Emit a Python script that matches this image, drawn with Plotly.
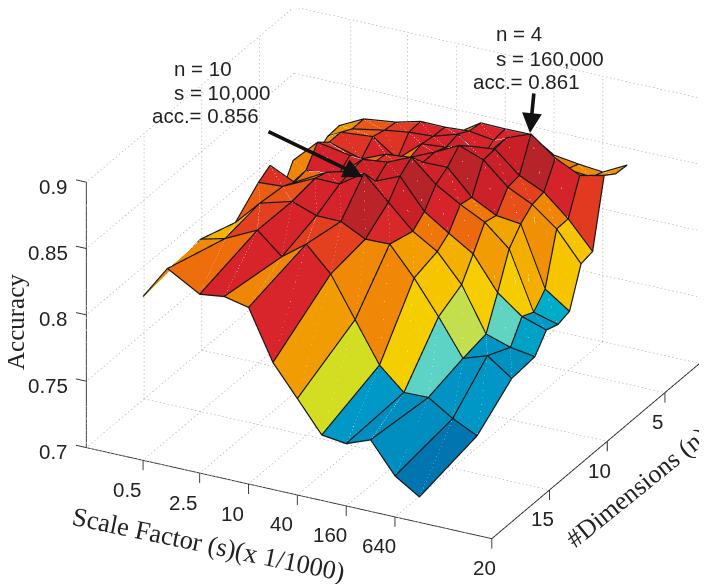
import numpy as np
import plotly.graph_objects as go

# ---------- data ----------
scale_factor = [0.5, 1, 2.5, 5, 10, 20, 40, 80, 160, 320, 640, 1280]
dimensions = [2, 3, 4, 5, 6, 7, 8, 9, 10, 12, 15, 20]
accuracy = [
    [.8168, .8239, .8279, .8321, .8317, .8436, .8432, .8434, .8317, .8291, .8272, .8366],
    [.8269, .8361, .8391, .8438, .8436, .8448, .8421, .8410, .8398, .8327, .8308, .8374],
    [.8262, .8359, .8404, .8430, .8441, .8498, .8360, .8553, .8623, .8483, .8394, .8435],
    [.8199, .8407, .8429, .8302, .8457, .8473, .8522, .8541, .8384, .8300, .8140, .7935],
    [.8250, .8405, .8334, .8411, .8429, .8509, .8601, .8534, .8369, .8280, .8137, .7915],
    [.8300, .8478, .8435, .8423, .8450, .8506, .8510, .8325, .8229, .8207, .7758, .7631],
    [.8133, .8340, .8358, .8520, .8539, .8618, .8454, .8344, .8252, .8092, .7656, .7605],
    [.8410, .8323, .8454, .8503, .8469, .8548, .8323, .8201, .8086, .7836, .7697, .7637],
    [.8355, .8366, .8482, .8480, .8602, .8425, .8248, .8136, .7928, .7597, .7538, .7509],
    [.8199, .8386, .8454, .8388, .8386, .8294, .8298, .8083, .7833, .7560, .7622, .7492],
    [.8294, .8340, .8458, .8299, .8435, .8251, .7948, .7647, .7482, .7486, .7369, .7280],
    [.8228, .8481, .8342, .8366, .8325, .7951, .7721, .7488, .7464, .7534, .7303, .7186],
]
s_ticks = [0.5, 2.5, 10, 40, 160, 640]
n_ticks = [5, 10, 15, 20]
z_ticks = [0.7, 0.75, 0.8, 0.85, 0.9]
z_tick_labels = ["0.7", "0.75", "0.8", "0.85", "0.9"]
color_levels = [0.70, 0.7369, 0.7486, 0.7647, 0.7758, 0.7833, 0.7928, 0.7950, 0.8083, 0.8137,
                0.8207, 0.8294, 0.8340, 0.8386, 0.8435, 0.8500, 0.8560, 0.8623]
color_values = ["#00609A", "#0075B0", "#008DBF", "#0099C7", "#00ADC8", "#5DD3C4", "#C5DF4D", "#D3DD22",
                "#F5CE00", "#F6C500", "#F3AE00", "#F08C05", "#EE6C0C", "#E3401F", "#D8252B", "#D22229",
                "#C82027", "#B42429"]
S_MIN, S_MAX, N_MIN, N_MAX, Z_MIN, Z_MAX = 0.1, 10000, 2, 20, 0.7, 0.9

acc = np.array(accuracy)
S, N = np.meshgrid(scale_factor, dimensions)
ni, si = acc.shape
idx = lambda i, j: i * si + j
I, J, K, cell = [], [], [], []
for i in range(ni - 1):
    for j in range(si - 1):
        I += [idx(i, j), idx(i, j)]
        J += [idx(i, j + 1), idx(i + 1, j + 1)]
        K += [idx(i + 1, j + 1), idx(i + 1, j)]
        cell += [acc[i, j], acc[i, j]]  # flat colour taken from the first corner

cmin, cmax = color_levels[0], color_levels[-1]
colorscale = [[(l - cmin) / (cmax - cmin), c] for l, c in zip(color_levels, color_values)]

fig = go.Figure()
fig.add_trace(go.Mesh3d(
    x=S.ravel(), y=N.ravel(), z=acc.ravel(), i=I, j=J, k=K,
    intensity=cell, intensitymode="cell", colorscale=colorscale, cmin=cmin, cmax=cmax,
    showscale=False, flatshading=True, hoverinfo="skip",
    lighting=dict(ambient=1, diffuse=0, specular=0, fresnel=0, roughness=1),
))

def polyline(segments, color, width):
    xs, ys, zs = [], [], []
    for seg in segments:
        for p in seg:
            xs.append(p[0]); ys.append(p[1]); zs.append(p[2])
        xs.append(None); ys.append(None); zs.append(None)
    fig.add_trace(go.Scatter3d(x=xs, y=ys, z=zs, mode="lines", hoverinfo="skip", showlegend=False,
                               line=dict(color=color, width=width)))

# wireframe, lifted a hair so it wins the depth test over the faces
LIFT = 0.0006
wire = [[(S[i, j], N[i, j], acc[i, j] + LIFT) for j in range(si)] for i in range(ni)]
wire += [[(S[i, j], N[i, j], acc[i, j] + LIFT) for i in range(ni)] for j in range(si)]
seams = [[(S[i, j], N[i, j], acc[i, j] + LIFT / 2), (S[i + 1, j + 1], N[i + 1, j + 1], acc[i + 1, j + 1] + LIFT / 2)]
         for i in range(ni - 1) for j in range(si - 1)]
polyline(seams, "rgba(255,255,255,0.28)", 1)
polyline(wire, "#161616", 2.4)

# dotted grid on floor and back walls: each grid line is cut into short dashes
def dotted(start, end, periods, duty=0.36):
    segs = []
    for k in range(periods):
        t0, t1 = k / periods, (k + duty) / periods
        segs.append([(start[0] * (end[0] / start[0]) ** t,
                      start[1] + (end[1] - start[1]) * t,
                      start[2] + (end[2] - start[2]) * t) for t in (t0, t1)])
    return segs

S_PERIODS, N_PERIODS, Z_PERIODS = 104, 68, 66
grid = []
for s in s_ticks:
    grid += dotted((s, N_MIN, Z_MIN), (s, N_MAX, Z_MIN), N_PERIODS)
    grid += dotted((s, N_MIN, Z_MIN), (s, N_MIN, Z_MAX), Z_PERIODS)
for n in n_ticks:
    grid += dotted((S_MIN, n, Z_MIN), (S_MAX, n, Z_MIN), S_PERIODS)
    grid += dotted((S_MIN, n, Z_MIN), (S_MIN, n, Z_MAX), Z_PERIODS)
for z in z_ticks:
    grid += dotted((S_MIN, N_MIN, z), (S_MIN, N_MAX, z), N_PERIODS)
    grid += dotted((S_MIN, N_MIN, z), (S_MAX, N_MIN, z), S_PERIODS)
polyline(grid, "#a4a4a4", 1.2)

# axes lines and tick marks
Z_TICK_BOTTOM = 0.6925
S_TICK_LEFT = 0.0745
axes_lines = [[(S_MIN, N_MAX, Z_MIN), (S_MAX, N_MAX, Z_MIN)],
              [(S_MAX, N_MAX, Z_MIN), (S_MAX, N_MIN, Z_MIN)],
              [(S_MIN, N_MAX, Z_MIN), (S_MIN, N_MAX, Z_MAX)]]
for s in s_ticks:
    axes_lines.append([(s, N_MAX, Z_MIN), (s, N_MAX, Z_TICK_BOTTOM)])
for n in n_ticks:
    axes_lines.append([(S_MAX, n, Z_MIN), (S_MAX, n, Z_TICK_BOTTOM)])
for z in z_ticks:
    axes_lines.append([(S_MIN, N_MAX, z), (S_TICK_LEFT, N_MAX, z)])
polyline(axes_lines, "#262626", 1.8)

tick_font = dict(family="Liberation Sans", size=20.5, color="#222222")
scene_ann = []
for s in s_ticks:
    scene_ann.append(dict(x=np.log10(s), y=N_MAX, z=Z_MIN, text=str(s), showarrow=False, font=tick_font,
                          xanchor="center", yanchor="middle", xshift=-16, yshift=-29))
for n in n_ticks:
    scene_ann.append(dict(x=np.log10(S_MAX), y=n, z=Z_MIN, text=str(n), showarrow=False, font=tick_font,
                          xanchor="center", yanchor="middle", xshift=-7.5, yshift=-29))
for z, t in zip(z_ticks, z_tick_labels):
    scene_ann.append(dict(x=np.log10(S_MIN), y=N_MAX, z=z, text=t, showarrow=False, font=tick_font,
                          xanchor="right", yanchor="middle", xshift=-16, yshift=-4))

W, H = 707, 584
PAGE_MARGIN = 8  # the browser's default body margin shifts the figure
def paper(px, py, **kw):
    return dict(xref="paper", yref="paper", x=(px - PAGE_MARGIN) / W, y=1 - (py - PAGE_MARGIN) / H, **kw)

text_font = dict(family="Liberation Sans", size=20.5, color="#222222")
title_font = dict(family="Liberation Serif", size=26, color="#222222")
layout_ann = []
for px, py, t in [(171.5, 68.5, "n = 10"), (171.5, 92, "s = 10,000"), (149.5, 116, "acc.= 0.856"),
                  (493.5, 34, "n = 4"), (493.5, 58, "s = 160,000"), (470.5, 81.5, "acc.= 0.861")]:
    layout_ann.append(paper(px, py, text=t, showarrow=False, xanchor="left", yanchor="middle", font=text_font))
for tip, tail in [((363, 177), (267, 131)), ((530, 133), (534, 92))]:
    layout_ann.append(paper(tip[0], tip[1], text="", showarrow=True, arrowhead=2, arrowsize=1.1, arrowwidth=3.6,
                            arrowcolor="#111111", standoff=0, ax=tail[0] - tip[0], ay=tail[1] - tip[1]))
layout_ann.append(paper(15, 322, text="Accuracy", showarrow=False, textangle=-90, xanchor="center", yanchor="middle",
                        font=dict(title_font, size=25)))
layout_ann.append(paper(208, 544, text="Scale Factor (s)(x 1/1000)", showarrow=False, textangle=11.8,
                        xanchor="center", yanchor="middle", font=dict(title_font, size=26.5)))
layout_ann.append(paper(637, 487, text="#Dimensions (n)", showarrow=False, textangle=-39,
                        xanchor="center", yanchor="middle", font=title_font))

hidden = dict(visible=False, showgrid=False, zeroline=False, showbackground=False, showspikes=False)
fig.update_layout(
    width=W, height=H, margin=dict(l=0, r=0, t=0, b=0), paper_bgcolor="white", showlegend=False,
    annotations=layout_ann,
    scene=dict(
        domain=dict(x=[0, 1], y=[0, 1]),
        xaxis=dict(type="log", range=[-1.2, 4.1], **hidden),
        yaxis=dict(range=[20.5, 1.5], **hidden),
        zaxis=dict(range=[0.69, 0.91], **hidden),
        aspectmode="manual", aspectratio=dict(x=1.65625, y=1.6382, z=1.1105),
        camera=dict(projection=dict(type="orthographic"), up=dict(x=0, y=0, z=1),
                    center=dict(x=-0.07151, y=-0.0664, z=-0.09432),
                    eye=dict(x=1.1672, y=-2.4664, z=1.2113)),
        annotations=scene_ann,
    ),
)
fig.write_html("out.html")
